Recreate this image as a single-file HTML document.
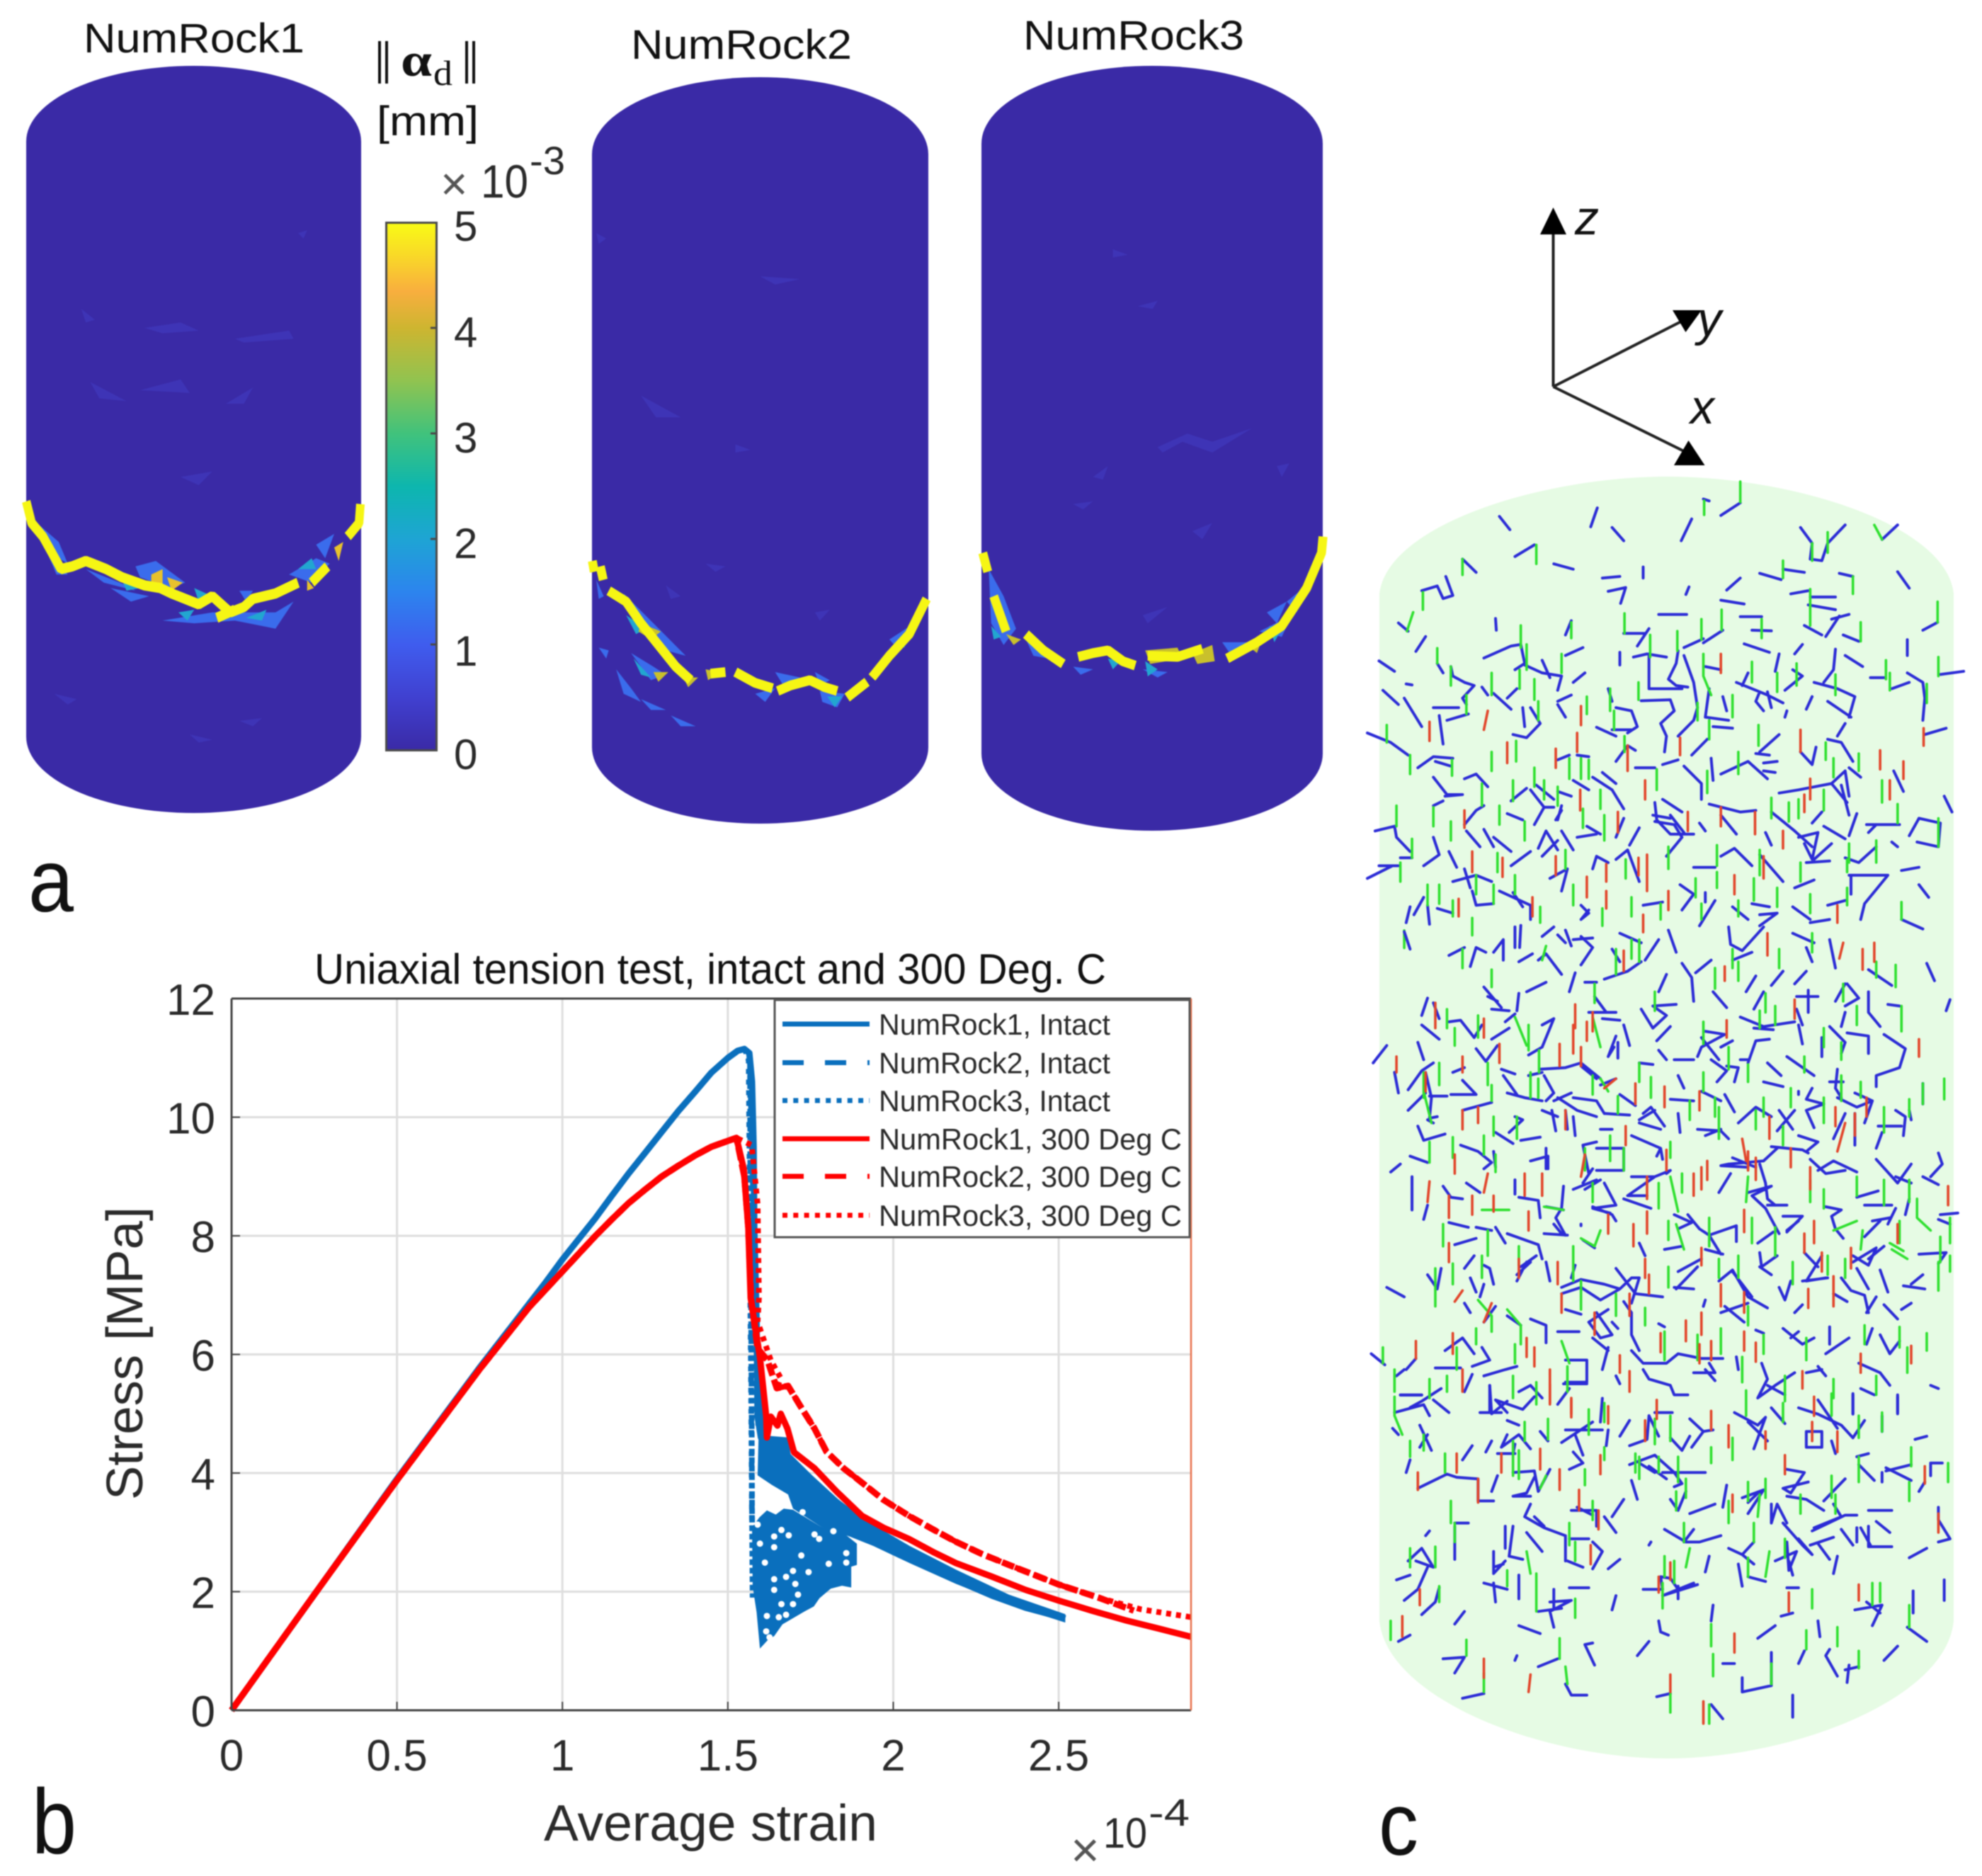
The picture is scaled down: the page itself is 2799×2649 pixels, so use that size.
<!DOCTYPE html>
<html lang="en">
<head>
<meta charset="utf-8">
<title>Numerical rock fracture figure</title>
<style>
html,body{margin:0;padding:0;background:#fff}
svg{display:block;filter:blur(0.9px)}
text{font-family:"Liberation Sans",sans-serif;fill:#111}
.tick{fill:#2a2a2a}
.fr path{fill:none;stroke-linecap:round;stroke-linejoin:round;vector-effect:non-scaling-stroke}
.cb{fill:none;stroke:#2b2bd6;stroke-width:4}
.cg{fill:none;stroke:#2fe02f;stroke-width:3.6}
.cr{fill:none;stroke:#e2452a;stroke-width:3.6}
.faint{fill:#3e34b6}
.yl{fill:none;stroke:#f6f614;stroke-linejoin:bevel}
</style>
</head>
<body>
<svg id="fig" xmlns="http://www.w3.org/2000/svg" width="2799" height="2649" viewBox="0 0 2799 2649">
<rect width="2799" height="2649" fill="#fff"/>

<!-- PANEL A -->
<g>
<text x="118" y="74" font-size="58" textLength="312" lengthAdjust="spacingAndGlyphs">NumRock1</text>
<text x="891" y="83" font-size="58" textLength="312" lengthAdjust="spacingAndGlyphs">NumRock2</text>
<text x="1445" y="70" font-size="58" textLength="312" lengthAdjust="spacingAndGlyphs">NumRock3</text>

<!-- Cylinder 1 -->
<g>
<path d="M37 200A236.500 107 0 0 1 510 200V1040A236.500 108 0 0 1 37 1040Z" fill="#3a2aa6"/>
<g transform="scale(.6378,.7653)">
<path class="faint" d="M320 605 400 595 440 610 360 615ZM520 625 640 610 650 625 540 632ZM500 745 560 715 540 745ZM180 570 210 590 190 595ZM200 705 280 740 220 735ZM310 720 400 700 420 725ZM660 430 680 425 672 440ZM120 1280 170 1290 150 1300ZM420 1355 470 1365 440 1370ZM530 1330 580 1325 560 1340ZM400 880 470 870 440 895Z"/>
<path d="M300 1045 345 1035 410 1075 375 1085 310 1065ZM360 1145 470 1130 610 1130 650 1110 610 1160 520 1145 430 1150ZM640 1060 700 1030 730 1040 690 1075ZM75 960 130 1000 150 1040 110 1020ZM190 1050 280 1080 300 1090 230 1075ZM530 1090 560 1090 545 1110ZM100 1010 150 1060 125 1060ZM245 1085 330 1100 290 1110ZM700 1005 740 985 720 1030Z" fill="#3a6cec"/>
<path d="M270 1070 310 1085 280 1090ZM545 1140 590 1125 580 1145ZM660 1050 690 1030 700 1050ZM430 1085 470 1100 440 1110ZM90 980 110 1000 100 1010ZM395 1130 430 1125 415 1145Z" fill="#22a6d0"/>
<path d="M335 1060 360 1050 360 1085 335 1080ZM370 1065 405 1075 380 1090ZM680 1070 695 1085 680 1090ZM740 1010 760 1000 750 1035Z" fill="#e8c22c"/>
<path class="yl" d="M58 925 70 965 95 990 135 1050 160 1045 190 1035 235 1050 270 1065 320 1080 355 1085 380 1095 410 1105 440 1115 470 1100 510 1130 540 1120 560 1105 610 1095 635 1085 660 1075M690 1075 725 1045M770 990 795 965 798 930" stroke-width="19"/>
<path class="yl" d="M480 1140 520 1125" stroke-width="19"/>
</g>
</g>

<!-- Cylinder 2 -->
<g>
<path d="M836 218A237.500 109 0 0 1 1311 218V1055A237.500 108 0 0 1 836 1055Z" fill="#3a2aa6"/>
<g transform="translate(800,0) scale(.7015,.7653)">
<path class="faint" d="M150 730 230 770 180 770ZM390 510 470 515 420 525ZM200 1080 230 1100 210 1105ZM500 1130 530 1125 510 1145ZM60 430 80 440 65 450ZM340 820 370 830 340 835ZM280 1040 320 1045 300 1055Z"/>
<path d="M115 1095 175 1150 240 1210 200 1200 140 1150ZM65 1195 85 1200 80 1215ZM130 1205 175 1230 200 1245 170 1255ZM100 1235 130 1270 150 1295 115 1280ZM150 1290 200 1310 170 1310ZM210 1320 260 1340 230 1340ZM60 1070 75 1100 65 1105ZM380 1280 420 1270 400 1295ZM510 1275 560 1280 545 1305 515 1295ZM650 1180 700 1150 670 1200ZM420 1240 470 1250 440 1270ZM500 1240 530 1255 510 1265Z" fill="#3a6cec"/>
<path d="M120 1135 160 1160 140 1170ZM525 1285 555 1285 540 1305ZM665 1185 690 1170 680 1195ZM135 1215 170 1250 150 1245Z" fill="#22a6d0"/>
<path d="M150 1150 190 1165 170 1180 145 1165ZM175 1240 205 1240 185 1258ZM235 1250 265 1250 245 1268ZM280 1235 310 1240 285 1255Z" fill="#c9c02c"/>
<path class="yl" d="M52 1035 56 1055M68 1045 74 1070M85 1090 120 1110 150 1150 185 1190 220 1230 250 1255M290 1243 320 1240M340 1240 380 1260 415 1270M425 1275 450 1265 490 1255 520 1268 545 1275M565 1287 605 1258M615 1250 650 1210 690 1170 725 1105" stroke-width="18"/>
</g>
</g>

<!-- Cylinder 3 -->
<g>
<path d="M1386 203A241 110 0 0 1 1868 203V1064A241 109 0 0 1 1386 1064Z" fill="#3a2aa6"/>
<g transform="translate(800,0) scale(.7015,.7653)">
<path class="faint" d="M1190 825 1250 800 1300 815 1380 790 1300 835 1240 815 1200 835ZM1150 565 1190 555 1180 570ZM1060 880 1090 860 1080 885ZM1430 860 1455 855 1440 880ZM1020 930 1060 925 1040 940ZM1260 980 1300 965 1280 995ZM1160 1135 1210 1120 1170 1150ZM1100 460 1130 470 1100 475Z"/>
<path d="M850 1050 880 1100 905 1160 880 1190 855 1150ZM1160 1235 1210 1240 1190 1250ZM1320 1185 1370 1185 1335 1205ZM1395 1165 1460 1135 1440 1175ZM1020 1230 1060 1235 1035 1245ZM1450 1110 1490 1080 1470 1130ZM925 1180 970 1215 940 1210ZM1410 1130 1450 1110 1430 1150Z" fill="#3a6cec"/>
<path d="M1090 1215 1115 1220 1100 1235ZM1165 1220 1190 1235 1170 1248ZM855 1155 875 1175 860 1180ZM1415 1155 1440 1160 1425 1185Z" fill="#22a6d0"/>
<path d="M1165 1200 1230 1195 1240 1215 1175 1225ZM1260 1205 1300 1190 1305 1220 1270 1225ZM1370 1190 1400 1180 1390 1205ZM885 1170 915 1180 900 1190Z" fill="#c9c02c"/>
<path class="yl" d="M838 1020 848 1055M860 1100 885 1165M925 1170 960 1200 1000 1225M1030 1212 1060 1205 1090 1200 1120 1220 1145 1228M1170 1210 1230 1212 1280 1197M1330 1215 1390 1185 1440 1155 1490 1085 1520 1020 1523 990" stroke-width="18"/>
</g>
</g>

<!-- Colorbar -->
<defs>
<linearGradient id="parula" x1="0" y1="1" x2="0" y2="0">
<stop offset="0" stop-color="#3a2aa6"/><stop offset=".1" stop-color="#4040d0"/><stop offset=".2" stop-color="#3f5cee"/><stop offset=".3" stop-color="#2c84ee"/><stop offset=".4" stop-color="#1ea4d4"/><stop offset=".5" stop-color="#0db6ae"/><stop offset=".6" stop-color="#40c27c"/><stop offset=".7" stop-color="#90c350"/><stop offset=".8" stop-color="#cdb530"/><stop offset=".87" stop-color="#f8ae3e"/><stop offset=".93" stop-color="#f9d42a"/><stop offset="1" stop-color="#f9fb15"/>
</linearGradient>
</defs>
<g>
<rect x="545.500" y="314.500" width="71" height="745" fill="url(#parula)" stroke="#4a4a4a" stroke-width="3"/>
<path d="M608 463H616M608 612H616M608 761H616M608 910H616" stroke="#4a4a4a" stroke-width="3"/>
<text class="tick" x="641" y="340" font-size="60">5</text>
<text class="tick" x="641" y="490" font-size="60">4</text>
<text class="tick" x="641" y="639" font-size="60">3</text>
<text class="tick" x="641" y="788" font-size="60">2</text>
<text class="tick" x="641" y="940" font-size="60">1</text>
<text class="tick" x="641" y="1086" font-size="60">0</text>
<g>
<text class="tick" x="622" y="282" font-size="66" style="fill:#555">×</text>
<text class="tick" x="679" y="279" font-size="66" textLength="67" lengthAdjust="spacingAndGlyphs">10</text>
<text class="tick" x="748" y="246" font-size="56" textLength="50" lengthAdjust="spacingAndGlyphs">-3</text>
</g>
</g>
<g>
<path d="M536 58V118M546 58V118M659 58V118M669 58V118" stroke="#111" stroke-width="4" fill="none"/>
<text x="566" y="107" font-size="66" font-weight="bold" style="font-family:'Liberation Serif',serif" textLength="44" lengthAdjust="spacingAndGlyphs">α</text>
<text x="612" y="120" font-size="50" style="font-family:'Liberation Serif',serif" textLength="27" lengthAdjust="spacingAndGlyphs">d</text>
<text x="532" y="191" font-size="58" textLength="144" lengthAdjust="spacingAndGlyphs">[mm]</text>
</g>
<text x="40" y="1287" font-size="125" textLength="64" lengthAdjust="spacingAndGlyphs">a</text>
</g>

<!-- PANEL B -->
<g id="chart"></g>
<text x="45" y="2617" font-size="130" textLength="63" lengthAdjust="spacingAndGlyphs">b</text>

<!-- PANEL C -->
<g>
<path d="M1948 838C1960 740 2180 673 2354 673C2530 673 2748 740 2759 838V2289C2748 2400 2530 2483 2354 2483C2180 2483 1960 2400 1948 2289Z" fill="#e6fbe4"/>

<g class="fr" transform="translate(1920,660) scale(.5486,.4464)">
<path class="cb" d="M360 155 387 197M612 128 595 188M650 190 680 232M855 163 828 232M885 100 900 106M930 152 980 112M1135 190 1165 240 1160 290 1190 295 1205 240 1250 182M1385 182 1345 228M400 282 450 245M500 305 550 322M625 350 670 345M730 315 730 350M1385 330 1415 382M640 392 685 380 672 430M848 378 840 402M980 350 945 388M1030 335 1085 355M1090 322 1145 332M1235 335 1270 345M300 332 265 290M160 390 200 375 215 415 240 405 222 345M1110 400 1155 390M1160 410 1225 410M930 420 990 432M1155 435 1225 450M1215 480 1260 465M770 465 842 465M980 472 1035 472M1010 515 1060 517M1145 500 1190 530M1200 535 1235 470M1245 530 1285 550M1450 515 1488 490M350 478 352 515M545 485 530 530M100 492 125 518M170 535 145 582M680 525 735 525M715 565 745 510M885 555 935 515M835 570 885 542M320 603 390 565 415 560 425 620 400 640M530 595 575 570M670 585 670 625M705 600 740 590 790 600M990 558 1055 585M1140 560 1120 590M1225 575 1220 640 1195 680M1250 595 1295 630M1410 545 1410 595M50 612 90 645M200 620 215 650M235 630 240 660 270 680 295 690 265 730 275 750M425 625 470 650 520 660 510 705M470 610 490 665M580 650 550 680M745 590 745 700M820 580 815 620 795 670 815 690 845 695M835 595 860 680 870 760 860 800M890 630 930 640M1080 590 1070 645M1115 640 1140 660 1095 705M1315 665 1350 665M1410 650 1450 680 1455 730 1450 800M1495 655 1555 645M1370 700 1415 680M120 685 135 688M60 705 100 750M115 730 160 820M315 695 330 720M345 715 390 765M405 700 380 730M745 700 830 700M725 738 800 735 810 770 775 810 790 850 785 900M970 680 1050 720 1090 745M1000 650 985 690M1030 710 1020 740 1040 770M1050 710 1060 760M1170 680 1230 700 1275 725 1260 790M1205 740 1265 790M1165 725 1150 765M510 740 545 720M510 750 530 790M640 700 650 740M660 760 700 770 715 820 690 840M610 822 660 850M650 830 700 830M900 700 890 790 950 800M910 820 960 825M935 725 945 770M190 760 255 760M225 800 280 780M205 785 215 875M420 760 425 820M440 760 465 810 430 855 395 845M1100 770 1095 790M1230 850 1250 810M1205 860 1240 870 1270 930M1455 845 1510 825M860 800 820 850M895 860 855 910M20 840 80 870 125 910M1030 900 1080 845M1020 905 1055 910M1135 900 1165 940 1175 885M150 950 190 915 240 920M195 930 235 945M190 980 225 1035 265 1035M270 985 300 970 330 1010M835 945 880 1000 880 1050M560 910 590 915M510 925 540 910M600 980 650 1020 680 1080M550 990 590 1020M625 965 660 1000M760 950 710 950M660 930 690 880 710 895M780 940 820 925M905 920 910 990M930 970 1000 930 1050 985M1040 935 1075 930M1040 960 1070 965M440 1020 475 1075 450 1130M390 1055 430 1015M455 1005 500 1050M510 1025 545 1040M475 1075 500 1075M520 1085 505 1115M1080 1030 1130 1020 1215 1000 1255 1060M1215 1000 1250 960 1260 1040M1240 1005 1260 1100M1290 980 1260 950M1400 1025 1375 960M1505 1040 1525 1090M40 1150 90 1135 95 1170 130 1215M190 1070 215 1055M220 1040 265 1035M780 1050 830 1090M800 1100 835 1155M755 1100 800 1110M760 1060 765 1115 800 1160 860 1160M900 1065 980 1090 1020 1085M930 1100 970 1160M1060 1090 1120 1150 1165 1200M1190 1090 1165 1125M1280 1095 1260 1165M1195 1135 1250 1175M1305 1130 1350 1130 1390 1130M1440 1110 1415 1165M1440 1110 1495 1125 1490 1200 1435 1185M1370 1185 1385 1200M270 1130 300 1085 320 1070M275 1150 310 1200M320 1145 345 1200M380 1095 420 1115M345 1170 390 1215M480 1150 460 1205 480 1150 510 1210M520 1150 550 1210M520 1070 510 1115M560 1170 610 1160M585 1135 620 1160M680 1110 660 1170M720 1140 695 1195M760 1120 810 1130 830 1170 790 1230M875 1125 890 1150M1045 1155 1060 1195M1130 1170 1180 1155 1165 1240 1145 1190M1215 1190 1170 1240M1250 1235 1285 1250 1330 1200M1310 1155 1330 1130M165 1260 205 1225 190 1170M230 1215 250 1265M390 1260 440 1215M470 1230 510 1180M600 1270 610 1230 640 1250M660 1240 690 1210 720 1310M860 1265 915 1265M930 1230 965 1205 1010 1260M1030 1225 1090 1310M1150 1250 1210 1245M1260 1290 1315 1290 1360 1290 1300 1380 1290 1430M1265 1290 1265 1350M1440 1320 1465 1360M1395 1275 1440 1265M20 1300 85 1260M50 1260 100 1260M105 1235 135 1235M490 1300 535 1270 520 1340M240 1310 300 1290 340 1310M270 1270 285 1330M290 1340 300 1385 345 1380M360 1340 440 1385 440 1430M395 1345 420 1390M130 1390 120 1440M175 1385 180 1445M165 1360 140 1415M200 1395 240 1410M570 1385 590 1410 570 1430 590 1400M730 1385 780 1375M825 1320 860 1350 830 1400M890 1345 890 1375M915 1370 875 1450M960 1390 1000 1430M1010 1380 1055 1390M1030 1415 1075 1410 1030 1450M1120 1330 1170 1305M1115 1390 1160 1430M1205 1385 1250 1370M1160 1440 1210 1430M1395 1430 1450 1460"/>
<path class="cg" d="M980 45V110M887 105V150M138 458 122 518M163 395V450M265 290V340M455 245V305M1165 240V295M1205 205V270M1325 182 1345 228M1090 295V350M1160 385V500M1270 345V400M1290 490V550M1488 425V490M682 462V525M880 480V545M932 450V515M818 518V580M1035 480V540M415 500V570M545 490V540M748 530V600M520 590V650M430 560V640M200 572V620M235 630V690M340 650V720M412 640V700M450 670V735M885 590V660M1010 615V680M1075 650V710M1125 620V690M885 660 905 720M718 680V735M275 720V780M460 740V800M585 725V780M645 700V770M655 770V830M960 720V790M1225 655V720M1355 610V670M1365 650V705M1490 600V660M1460 685V745M70 815V870M130 910V970M340 900V960M403 865V930M682 850V900M1027 815V880M1200 870V925M1285 905V960M870 745V800M900 800V860M975 900V970M238 925V975M450 950V1010M540 920V985M570 920V985M590 925V985M765 955V1020M1220 920V980M395 990V1055M475 990V1050M510 1010V1070M315 1000V1070M620 1020V1080M895 960V1030M1060 1045V1110M1105 1060V1120M1130 1050V1110M1195 1020V1085M1345 990V1060M1385 1065V1125M95 1070V1135M190 1075V1135M360 1070V1130M425 1120V1180M235 1120V1180M575 1080V1140M630 1100V1180M135 1175V1235M795 1200V1270M920 1195V1260M1030 1210V1290M1135 1250V1310M1260 1190V1250M1330 1180V1250M1255 1240V1280M1490 1110V1200M105 1250V1310M300 1290V1350M355 1220V1280M400 1290V1350M530 1210V1270M685 1240V1300M175 1320V1385M205 1320V1380M240 1370V1420M345 1320V1380M465 1390V1440M550 1320V1385M700 1360V1420M775 1380V1430M865 1300V1360M920 1280V1330M1015 1300V1370M1075 1330V1390M1160 1350V1410M1255 1330V1385M880 1380V1430M975 1370V1420M1395 1375V1430M625 1395V1450M290 1425V1480M115 1465V1520"/>
<path class="cr" d="M180 805V865M330 770 320 830M380 870V935M570 755V815M560 840V900M505 890V950M690 880V960M825 855V910M1135 830V900M1340 895V955M1400 930V985M1452 825V880M735 990V1050M568 1020V1085M930 1075V1135M1018 1090V1160M1160 985V1050M1145 1035V1090M1365 990V1050M270 1085V1140M665 1090V1155M845 1090V1150M930 590V650M1090 1150V1205M1040 1230V1300M505 1230V1290M290 1215V1280M368 1235V1295M740 1225V1340M718 1235V1290M635 1255V1310M635 1340V1395M585 1295V1360M795 1340V1400M965 1290V1350M445 1360V1420M255 1365V1420M1230 1385V1440M730 1415V1470"/>
</g>

<g class="fr" transform="translate(1920,1300) scale(.5486,.4464)">
<path class="cb" d="M115 35 130 90M230 110 270 85M285 145 300 85 325 100M345 100 370 60V125M410 130 445 105M460 125 480 105 520 170M400 20V85M415 15 412 85M470 50 500 20M510 45 530 70M530 30 545 80M550 60 600 55M570 50 600 85 570 140M670 40 725 70M650 90 670 130M630 185 690 160 725 130M580 195 610 195M555 165 540 225M430 225 480 195M410 230 405 285M320 210 365 275M330 240 355 255M340 280 385 285M175 245 160 300M190 260 205 310M735 125 770 60M795 30 815 100M790 170 770 225M830 135 855 180 860 255M865 165 905 125M950 20 955 75 985 95 1040 20M960 125 1010 100M910 225 945 275M1020 175 995 225M1090 160 1060 205M1150 160 1120 200M1040 225 1015 280M1115 40 1170 70M1150 85 1165 130M1210 60 1225 150M1125 240 1180 240M1155 220V290M1250 200 1225 255M1255 200 1285 245 1250 270M1310 225 1310 290 1340 335M1360 265 1390 270M1250 290 1240 335M1310 155 1370 205M1460 135 1480 190M1520 250 1510 285M605 240 635 290 590 290M620 290 660 290M625 310 670 315M725 280 755 340 790 300 755 270 815 265M765 380 800 335M680 330 695 395M660 365 640 430M665 385 665 435M400 295 375 320M160 330 205 375M230 320 260 315 295 370 315 330M340 375 385 340M470 330 500 310 470 400 435 425M1140 330 1125 280M980 305 1040 335 1120 320M1015 340 1065 345M1055 375 1020 380 1000 450M1130 330 1140 390M1210 335 1250 385 1240 420M1255 355 1310 365 1310 420M1350 360 1405 405 1390 465 1330 490 1330 525M1190 370 1190 430M980 440 1000 440M150 385 165 440M70 395 35 450M300 405 325 445 355 395M890 350 940 360 880 400 870 430M880 370 925 440M905 440 945 475 920 510M945 460 975 465 965 510M960 380 930 400M770 410 790 440M810 440 860 440M720 450 755 455M655 400 640 430M365 470 400 485M370 490 405 550M435 490 470 480M465 470 530 465 570 450 620 500M475 490 500 545 480 570M570 460 610 500M90 480 100 545M190 450 160 475 125 535M170 480 185 560 180 625 200 620M240 480 270 465M265 505 300 550 235 550M180 555 225 555M125 600 170 545M380 545 425 560 470 570M500 570 545 545M510 560 560 600 610 620M550 560 610 570 630 610M620 520 660 500M670 550 710 585M730 610 750 590 785 650M820 490 835 530M800 565 860 570M880 540 930 570M940 550 965 605M975 640 1020 590 1060 620M1080 600 1115 660M1120 600 1075 665M1040 510 1090 525M1050 450 1085 490M1100 430 1170 490M1210 510 1245 510M1230 470 1225 530 1240 560M1130 540V550M1165 530 1150 565 1195 580 1150 600 1170 655M1230 560 1280 590 1320 570M1275 545 1320 570 1300 640M1380 600 1405 620 1400 680M1335 650 1395 650M1345 670 1330 720M1450 515V580M150 650 165 695 220 675M175 630 190 640M265 600 340 575M470 600 510 620M495 600 505 665M400 620 420 630 385 670M350 670 395 705M415 695 465 685M530 600 535 660M550 620 555 680M630 610 695 615M620 660 650 660M720 630 760 600M720 640 775 660M820 610 825 670M870 660 930 665 950 690M890 680 930 660M1130 680 1180 700 1150 730M1060 715 1140 725 1155 735M1250 610 1220 690M1275 610 1275 710M1415 600 1420 630M130 745 175 765M80 795 105 770M260 710 305 730 340 765 320 785M345 730 350 780M610 700 575 710 590 800 600 785 575 830M610 720 680 720 680 790 610 790M700 680 775 720 780 755M775 720 765 745M1000 780 930 775 950 770 1040 760M960 750 1020 780M1040 760 1075 720M1030 770 1045 830 1050 880 1070 900M1050 900 1100 900M1160 755 1200 800 1250 790M1180 790 1220 760 1280 795M1330 755 1385 830 1420 770M1380 810 1420 830M1470 810 1500 770 1490 735M1450 810 1490 835M440 760 485 745V785M480 720V785M135 810V915M215 840 235 875 265 880M175 900 165 945M275 830 310 860M400 820V865M410 875 460 885 465 940M525 840 520 910 505 940 530 995M550 850 610 820M580 850 620 820M630 830 660 900 600 910 645 925M700 810 760 810 690 870 740 870M680 880 750 910M790 800 800 790 760 810M955 800 925 860M1000 860 1060 840 1010 870 1045 910 1080 990M1090 935 1140 935 1100 985M1280 875 1335 855M1300 900 1370 900M1415 880 1405 930M1495 930 1540 925M1490 945 1520 960M1200 905 1240 915 1215 935 1225 975 1245 1005M1320 950 1365 940M1300 1000 1340 950M1380 910 1360 960M480 905 525 915M845 930 875 975 900 995 970 965 970 1015M900 995 930 1055M810 930 855 955 820 975M600 905 650 930 660 950M570 960V965M475 990 535 995M500 960 520 990M230 955 280 970M350 970 375 1020M300 970 340 980M245 1025 300 1005M380 990 460 1025 470 1070M415 1095 455 1060M405 1140 430 1080M575 1010 605 1035M720 1020 735 1060M785 1040 830 1030M890 1040 935 1055M1025 1020 1065 985M1130 950 1100 980M1145 1050 1180 1095M1030 1050 1035 1095 1075 1060M1190 1060 1150 1140 1200 1130M1270 1080 1330 1035 1310 1090 1270 1060M1310 1070 1350 1030M1440 1055 1510 1050 1490 1085M1280 1100 1310 1165M1340 1105 1360 1175M1420 1150 1450 1120M1400 1155 1455 1165M270 1100 295 1060M285 1130 300 1175M320 1090 335 1100 345 1150M320 1150 310 1190M175 1120 200 1165 210 1100M70 1160 115 1190M270 1210 285 1240M405 1120 440 1080M480 1080 490 1140M520 1160 570 1135 630 1150 670 1165M555 1090 545 1130M520 1180 570 1160 620 1200 670 1165 700 1130 720 1130 700 1210M530 1230 570 1245M610 1240 650 1310 620 1320 590 1270 640 1230M660 1100 710 1180 780 1190M700 1240 680 1205M810 1160 860 1165M815 1165 870 1095M820 1110 880 1070M925 1140 960 1105 1000 1190 1050 1225M960 1110 1010 1190M890 1200 885 1220M930 1240 1000 1210M940 1220 990 1270M1030 1095 1060 1120M1080 1160 1095 1200 1110 1140M1120 1240 1140 1215M1140 1140 1205 1130M1220 1180 1255 1205M1240 1130 1265 1170 1300 1185 1310 1240M1350 1215 1385 1260M1330 1190 1305 1240M1395 1230 1420 1210M320 1270 350 1220M380 1250 415 1280M440 1260 480 1280 480 1335M510 1300H565M600 1320 640 1360M650 1270 665 1290M700 1240 700 1310 720 1360M770 1275 785 1285M1020 1295 1040 1305M1090 1290 1140 1340 1170 1320M1130 1300 1110 1320M1200 1370 1260 1320M1210 1285V1340M1320 1290 1305 1340M1340 1310 1365 1370 1390 1330M30 1370 65 1405M120 1420 145 1385M220 1360 265 1320 295 1370M195 1415H260M290 1410 335 1390 315 1350M320 1440 375 1420 405 1410M640 1350 625 1420M700 1360 730 1400 790 1400 820 1370 880 1385 935 1385M730 1420 745 1450 800 1470 810 1500 845 1500M860 1430H915L900 1400M890 1420 915 1455M970 1380 975 1420M1035 1400 1050 1450 1025 1510 1070 1470 1120 1430M1050 1470 1095 1500M1180 1410 1200 1440M1150 1430 1190 1420M530 1390H585V1460H530M525 1465H585M540 1480 510 1530M660 1440 670 1465M1285 1400 1340 1430 1365 1470M1290 1480 1325 1500M1470 1470 1490 1480M105 1500H160M95 1440 115 1420M335 1470 340 1560 380 1520M410 1490 440 1470 470 1510M290 1435 270 1490M210 1480 160 1520 130 1540M1270 1500V1560M1385 1500V1560"/>
<path class="cg" d="M265 90V150M480 80 470 125M340 155V210M605 200V260M660 90V170M700 60V120M720 60V130M960 90V150M915 150V215M975 130V190M1080 90V150M1165 40V100M1380 140V210M1330 130V180M1395 270V350M1280 270V330M1245 200V255M1030 285V340M1070 270V330M1045 230V290M760 225V285M225 280V340M305 300V370M245 340V395M400 305 430 395M435 330V410M462 410V480M600 305 620 400M885 320V390M950 400V470M1195 340V400M1240 385V440M1145 430V480M1000 455V510M205 450V520M330 450V520M165 480V560M440 480V560M460 500V560M600 490V550M620 500 640 540M665 555V610M750 495V560M885 480V540M720 450V510M165 540 185 640M340 520V570M1450 515V580M1505 500V565M1290 510V560M1240 490V570M1110 530V590M915 560V620M850 570V630M925 590V690M1040 560V620M1020 600V660M1090 650V710M1195 560V640M1350 590V670M1415 565V620M240 685V750M320 680V740M350 740V795M180 700V765M345 620V680M405 620V690M645 680V760M680 720V790M580 720V790M800 700V750M1000 810 995 890M1160 820V890M1195 850V910M1350 820V900M1415 820V890M1280 810V870M1435 880V940L1470 980M600 830V890M770 830V910M800 810 820 920M830 800V860M1520 940V1020M1390 950V1020M1495 1000V1080M1295 980 1290 1040M1220 980 1280 950M315 915H385M475 905 525 915M215 960V1030M330 980V1060M620 980 605 1030 570 1005M795 950V1010M815 960 835 1040M900 940V1030M1010 940V1020M1070 970V1060M1250 1070V1130M240 1085V1150M410 1030V1090M315 1060V1130M550 1030V1140M795 1095V1160M925 1070V1130M975 1060V1130M1115 1080V1150M1205 1060V1120M1400 1045 1365 1020M1370 1040 1410 1070M1490 1080V1170M1520 1060V1110M195 1100V1220M305 1200 340 1250V1300M380 1230 415 1280V1340M570 1140V1230M660 1180V1250M735 1225V1280M785 1300V1390M870 1310V1390M930 1290V1370M1000 1220V1280M1040 1310V1370M1150 1320V1390M1300 1280V1340M1390 1285V1350M1460 1305V1360M300 1290V1340M60 1350V1400M400 1340V1400M250 1350V1420M520 1330 540 1400M90 1420V1490M180 1450V1510M225 1440V1490M395 1440V1510M455 1460V1530M535 1410V1490M985 1380V1460M1095 1440V1520M1220 1450V1510M1330 1440V1500M1410 1350V1430"/>
<path class="cr" d="M1050 40V110M1245 70 1235 120M1325 70V130M1295 90V155M940 145V190M680 95V160M555 265V340M320 310V370M585 320V380M600 290V350M550 330V420M195 260V340M1120 250V310M945 315V370M1440 375V430M515 390V460M570 400V460M360 390V450M95 430V480M265 430V480M170 480V540M660 500 630 530M710 515V580M785 525V590M875 540V600M1305 560V620M265 600V660M305 590V640M530 600V660M685 650V710M1055 620V690M1225 590V650M1250 640 1230 730M1275 610V680M245 740V800M330 800 320 860M580 740 570 810M790 725V790M985 690 995 760M1000 730V790M1020 750V820M1110 720V780M1160 780V850M180 825 175 890M425 800V870M470 800V870M895 760V820M880 780V850M860 800V870M740 810V880M1515 840V900M230 870V940M290 870V930M345 870V920M435 920V980M640 930V990M740 920V990M1170 950V1020M990 915V985M1385 960V1020M705 960V1030M1145 990V1050M230 1020V1080M1265 1035V1100M410 1070V1130M510 1080V1150M735 1070V1130M880 1035V1090M1190 1050V1110M1220 1125V1220M745 1120V1180M695 1180V1250M520 1180V1240M930 1150V1220M880 1240V1310M990 1175V1240M1155 1165V1225M265 1170 245 1205M340 1210 320 1270M605 1240V1310M775 1305V1365M840 1265V1330M990 1300V1360M1020 1335V1395M240 1305V1370M145 1330V1385M430 1320V1380M450 1350V1410M875 1340V1400M905 1330V1390M1290 1370V1430M1420 1345V1400M265 1420V1490M490 1420V1530M695 1425V1490M670 1375V1430M1140 1425V1480M545 1510V1560"/>
</g>

<g class="fr" transform="translate(1920,1950) scale(.5486,.4458)">
<path class="cb" d="M105 45H160M90 100 165 75 180 110M230 100 190 60M310 100H365M335 15V100M380 100 350 60 420 90 450 50M625 55 620 130M530 155H625M600 130 520 195M555 170 575 235M640 155 635 205M695 125 670 175M695 205 740 185 745 110M745 110 770 175M760 100H805M850 120 885 160 855 210M885 160 910 155M800 180 830 220 850 175M965 100 1025 140 1045 115 1015 215M1000 130 1050 190M1060 85 1095 135M1130 85 1180 105 1240 140 1270 180 1300 125M1180 60 1230 150M1150 210 1190 210 1190 160 1150 160V210M1270 40V105M1385 50V100M1430 185 1460 175M1345 110V160M100 170 85 150M155 140 185 220M175 170 155 210M290 205 265 250M340 190 325 225M380 170 365 210 410 170 440 215M410 140 380 125M465 160 485 190M400 200 395 230M1500 260H1470V300M1285 265 1325 315M1355 275 1420 315M1420 265 1355 285M1455 320 1440 350M1345 290V320M1280 240 1310 230M1225 230 1215 190M130 250 120 290M150 340 225 295 250 305 305 310V380H345M355 230H400M355 300 340 350M450 305 430 355 395 365H440M395 290 450 285 460 350 490 280M540 280 575 260 550 225M695 265 760 235 810 290 830 325 810 335M720 260 760 290M780 290H890M745 270 790 310M700 315 715 375M680 375 650 430M840 350 820 410 800 375M850 420 915 390M1100 280 1145 290 1110 355 1090 340 1155 320M1100 365 1150 375 1195 410M1250 310 1195 380M985 370 1040 345 1000 420M945 330 935 400M1030 350 1000 385M440 390 425 430 475 465 530 490M450 430 475 460M545 410H610V460M560 400 600 425M630 430 660 480M245 450H280M245 460 245 565M170 490 180 475M375 460V530M395 460 385 555M430 480 470 540M540 500H590M535 570 575 590M600 510 625 540 600 595M640 595 670 565M530 490V570M1060 390V450L1075 390 1100 450M1090 450 1140 520 1165 550 1130 500M1165 475 1250 425 1280 425M1220 390 1240 430 1170 465M1310 410H1370M1240 470 1270 520M1330 445 1365 480M1310 460V525H1370M1290 465 1315 520M1160 520 1220 495M1180 515 1210 565M1280 465V510M1490 400V440L1520 500M1490 510 1520 500M1415 560 1460 530M1230 555 1220 610M1100 510 1105 600 1125 540 1070 570M1105 570 1115 615M785 470 840 510 875 510 930 490M860 470 835 510M750 510 745 520M950 530 985 550 1015 580M1015 510 985 550M900 555 890 605M975 580 985 650M1000 620 1045 635M345 540 345 610 375 570M345 590 370 580M385 555 420 565M320 640 380 660M345 640 350 700M410 615V690M490 700 545 695 490 730 500 780M460 730 520 720M500 660V720M540 655H590M125 570 160 530 190 590 145 570M95 630 130 615M175 590 150 660 115 695M205 655 195 700 160 740M660 680 650 725M730 660H780L775 620 800 625 820 660 870 645 780 680M780 680 860 640M820 650 820 690M910 710 905 760M770 760 775 795 795 805M745 825 715 870M1120 655 1100 655H1130M1085 745 1115 735M1275 725 1345 710 1320 775M1180 760 1185 810M1305 700 1340 735M1425 665V735M1505 630V695M1410 780 1460 825M1210 850 1200 870 1230 935M1250 915 1285 905M1260 900 1255 955M1385 840 1350 885M1145 855 1130 895M1025 815 1070 775M985 940V985L1060 965 1060 860M935 895H965M765 1000 800 990M905 1025 935 1070M1115 995V1065M265 1005 320 990M530 960 545 995H585M460 905 510 880M600 830 580 835 605 900M405 870 400 885M410 775 465 800M245 770 270 730M215 880 270 875 245 925M100 825 130 805"/>
<path class="cg" d="M90 50V110L110 170M130 190V240M165 170V220M425 130V190M485 120V185M590 90V170M630 70V130M760 120V200M800 110V190M905 210V260M995 30V110M1090 70V130M1215 40V110M1285 110V180M1345 100V160M1285 240V320M1420 210V270M1415 320V380M1515 260V320M395 190V300M410 220V310M580 280V330M630 210V250M720 240V310M770 240V290M820 240V320M840 310V370M960 180V250M220 230V290M480 300 465 340M710 230V290M235 380V450M245 450V510M835 450V510M850 530 840 590M815 350V410M1000 320V380M1030 360 1025 430M1045 310V370M950 380V450M1095 500V560M1135 360V420M1225 360V420M1215 300V370M1015 450V510M540 450V520M555 510V570M600 380V440M130 530V590M195 525V590M380 600V650M430 540 440 610M455 610V730M555 690V750M785 555V620M810 570V640M1000 560V620M1055 540 1045 620M205 650V700M1165 660V720M1320 640V710M1340 640V700M1415 710V780M910 865V935M905 770V840M1150 790V850M1230 780V840M275 820V870M515 815V880M320 925V985M530 905 535 960M800 990V1050M900 1025V1085M1060 895V960M1285 855V910M780 640V720M80 760V820"/>
<path class="cr" d="M490 10V70M545 60V115M640 80V135M765 60V120M905 95V155M735 125V190M1170 50V110M1165 130V190M950 140V210M1045 160V215M1230 160V225M365 230V290M465 215V280M620 235V295M250 230V290M150 290V345M305 310V385M515 280V345M1095 235V295M1455 270V325M565 345V410M615 410V470M960 360V415M595 520V580M800 575V630M1490 420V480M770 620V670M1285 645V695M1105 670V730M155 660V710M110 745V810M965 800V860M320 880V940M440 930 435 985M800 930V985M885 1015V1085"/>
</g>

<g>
<path d="M2193.500 546V328M2193.500 546 2380 451M2193.500 546 2384 640" stroke="#222" stroke-width="4" fill="none"/>
<path d="M2193.500 293 2175 331H2212Z" fill="#000"/>
<path d="M2362 438H2403L2380.500 469Z" fill="#000"/>
<path d="M2384.500 622 2364 657H2407.500Z" fill="#000"/>
<text x="2224" y="331" font-size="68" font-style="italic">z</text>
<text x="2397" y="474" font-size="68" font-style="italic">y</text>
<text x="2387" y="598" font-size="68" font-style="italic">x</text>
</g>
<text x="1947" y="2619" font-size="125" textLength="56" lengthAdjust="spacingAndGlyphs">c</text>
</g>
</svg>

<script>
// ---- Panel b data (strain in 1e-4, stress in MPa) ----
const xTicks = [0, 0.5, 1, 1.5, 2, 2.5];
const xTickLabels = ['0', '0.5', '1', '1.5', '2', '2.5'];
const yTicks = [0, 2, 4, 6, 8, 10, 12];
const yTickLabels = ['0', '2', '4', '6', '8', '10', '12'];
const legendLabels = ['NumRock1, Intact', 'NumRock2, Intact', 'NumRock3, Intact', 'NumRock1, 300 Deg C', 'NumRock2, 300 Deg C', 'NumRock3, 300 Deg C'];

const intactRiseX = [0, 0.25, 0.5, 0.75, 0.85, 0.95, 1, 1.05, 1.1, 1.15, 1.2, 1.25, 1.3, 1.35, 1.4, 1.45, 1.5, 1.53, 1.55];
const intactRiseY = [0, 1.95, 3.9, 5.78, 6.5, 7.22, 7.6, 7.95, 8.3, 8.68, 9.05, 9.4, 9.75, 10.1, 10.42, 10.75, 11, 11.12, 11.15];
const intact1TailX = [1.565, 1.573, 1.578, 1.58, 1.587, 1.59, 1.6, 1.68, 1.8, 1.9, 2, 2.1, 2.2, 2.3, 2.4, 2.52];
const intact1TailY = [11.08, 10.6, 9.5, 8.14, 6.55, 4.95, 4.6, 4.3, 3.45, 3.05, 2.7, 2.42, 2.17, 1.93, 1.73, 1.55];
const intact2TailX = [1.567, 1.575, 1.585, 1.592];
const intact2TailY = [10.9, 9, 6.8, 4.8];
const intact3TailX = [1.563, 1.566, 1.568, 1.571, 1.573];
const intact3TailY = [11, 9, 7, 5, 3.1];

const intactBandTopX = [1.597, 1.618, 1.682, 1.69, 1.755, 1.833, 1.918, 2.05, 2.19, 2.35, 2.52];
const intactBandTopY = [5.55, 4.63, 4.6, 4.32, 3.96, 3.56, 3.2, 2.77, 2.37, 1.95, 1.62];
const intactBandLowX = [2.52, 2.35, 2.19, 2.05, 1.94, 1.868, 1.78, 1.697, 1.682, 1.633, 1.59];
const intactBandLowY = [1.48, 1.78, 2.13, 2.48, 2.77, 2.93, 3.1, 3.4, 3.64, 3.8, 3.96];
const intactNoiseX = [1.573, 1.595, 1.618, 1.645, 1.669, 1.697, 1.78, 1.847, 1.89, 1.89, 1.873, 1.873, 1.845, 1.811, 1.777, 1.76, 1.733, 1.69, 1.665, 1.64, 1.62, 1.597, 1.587, 1.575];
const intactNoiseY = [3.08, 3.25, 3.37, 3.3, 3.4, 3.38, 3.1, 3, 2.81, 2.45, 2.42, 2.07, 2.1, 2.05, 1.89, 1.75, 1.67, 1.53, 1.45, 1.25, 1.18, 1.04, 1.65, 2.09];
const intactGapX = [1.726, 1.762, 1.776, 1.819, 1.64, 1.684, 1.662, 1.64, 1.722, 1.805, 1.858, 1.858, 1.64, 1.676, 1.697, 1.744, 1.612, 1.597, 1.64, 1.704, 1.712, 1.662, 1.697, 1.618, 1.654, 1.616, 1.626, 1.676, 1.59];
const intactGapY = [3.34, 2.965, 2.89, 3.02, 2.93, 2.95, 3.04, 2.75, 2.61, 2.47, 2.65, 2.49, 2.21, 2.25, 2.35, 2.33, 2.49, 2.81, 2.03, 2.13, 1.95, 1.79, 1.79, 1.59, 1.57, 1.33, 1.23, 1.61, 3.13];
const intactDotDropX = [1.567, 1.568, 1.57, 1.572, 1.573, 1.575];
const intactDotDropY = [11, 9, 7, 5, 3.4, 1.9];

const heatRiseX = [0, 0.25, 0.5, 0.75, 0.8, 0.85, 0.9, 0.95, 1, 1.05, 1.1, 1.15, 1.2, 1.25, 1.3, 1.35, 1.4, 1.45, 1.5, 1.526];
const heatRiseY = [0, 1.95, 3.88, 5.75, 6.1, 6.45, 6.8, 7.1, 7.4, 7.7, 8, 8.28, 8.55, 8.78, 9, 9.18, 9.35, 9.5, 9.6, 9.65];
const heat1TailX = [1.548, 1.562, 1.569, 1.597, 1.616, 1.618, 1.63, 1.65, 1.66, 1.68, 1.7, 1.762, 1.83, 1.905, 1.97, 2.047, 2.12, 2.19, 2.3, 2.4, 2.5, 2.6, 2.7, 2.8, 2.9];
const heat1TailY = [9.13, 8.14, 6.95, 5.95, 4.95, 4.6, 4.95, 4.8, 5, 4.75, 4.35, 4.08, 3.68, 3.28, 3.08, 2.89, 2.67, 2.48, 2.25, 2.03, 1.85, 1.68, 1.52, 1.38, 1.24];
const heat2TailX = [1.55, 1.562, 1.57, 1.59, 1.62, 1.648, 1.682, 1.72, 1.762, 1.798, 1.85, 1.905, 1.97, 2.047, 2.12, 2.19, 2.27, 2.35, 2.5, 2.62, 2.727];
const heat2TailY = [9, 8.14, 6.95, 6.1, 5.9, 5.43, 5.47, 5.12, 4.75, 4.36, 4.08, 3.84, 3.55, 3.28, 3.05, 2.84, 2.63, 2.45, 2.12, 1.9, 1.68];
const heat3TailX = [1.572, 1.59, 1.594, 1.59, 1.63, 1.66, 1.648, 1.682, 1.72, 1.762, 1.798, 1.85, 1.905, 1.97, 2.047, 2.12, 2.19, 2.27, 2.35, 2.5, 2.62, 2.75, 2.9];
const heat3TailY = [9.53, 8.54, 6.95, 6.55, 5.9, 5.6, 5.43, 5.47, 5.12, 4.75, 4.36, 4.08, 3.84, 3.55, 3.28, 3.05, 2.84, 2.63, 2.45, 2.12, 1.9, 1.7, 1.57];

const xDomain = [0, 2.9];
const yDomain = [0, 12];

const SVGNS = 'http://www.w3.org/2000/svg';
const chart = document.getElementById('chart');
const plotLeft = 327, plotRight = 1682, plotTop = 1410, plotBottom = 2415;
function sx(v) { return plotLeft + (v - xDomain[0]) / (xDomain[1] - xDomain[0]) * (plotRight - plotLeft); }
function sy(v) { return plotBottom - (v - yDomain[0]) / (yDomain[1] - yDomain[0]) * (plotBottom - plotTop); }
function make(tag, attrs, parent) {
  const el = document.createElementNS(SVGNS, tag);
  for (const k in attrs) el.setAttribute(k, attrs[k]);
  (parent || chart).appendChild(el);
  return el;
}
function linePath(xs, ys) {
  return xs.map((v, i) => (i ? 'L' : 'M') + sx(v).toFixed(1) + ' ' + sy(ys[i]).toFixed(1)).join('');
}

// grid
xTicks.forEach((t) => {
  if (t === 0) return;
  const l = make('line', { x1: sx(t), x2: sx(t), y1: plotTop, y2: plotBottom, stroke: '#dedede', 'stroke-width': 3 });
  
  
});
yTicks.forEach((t) => {
  if (t === 0 || t === 12) return;
  const l = make('line', { x1: plotLeft, x2: plotRight, y1: sy(t), y2: sy(t), stroke: '#dedede', 'stroke-width': 3 });
  
  
});

// intact series
const BLUE = '#0a6fbd', RED = '#ff0000';
const band = make('path', { d: linePath(intactBandTopX.concat(intactBandLowX), intactBandTopY.concat(intactBandLowY)) + 'Z', fill: BLUE });


const noise = make('path', { d: linePath(intactNoiseX, intactNoiseY) + 'Z', fill: BLUE });


intactGapX.forEach((v, i) => {
  const g = make('circle', { cx: sx(v), cy: sy(intactGapY[i]), r: 4.5, fill: '#fff' });
  
  
});
const dotDrop = make('path', { d: linePath(intactDotDropX, intactDotDropY), fill: 'none', stroke: BLUE, 'stroke-width': 8, 'stroke-dasharray': '8 4' });



function addSeries(xs, ys, color, width, dash, name) {
  const attrs = { d: linePath(xs, ys), fill: 'none', stroke: color, 'stroke-width': width, 'stroke-linejoin': 'round' };
  if (dash) attrs['stroke-dasharray'] = dash;
  const p = make('path', attrs);
  
  
}
addSeries(intactRiseX.concat(intact2TailX), intactRiseY.concat(intact2TailY), BLUE, 8, '30 20', 'series-numrock2-intact');
addSeries(intactRiseX.concat(intact3TailX), intactRiseY.concat(intact3TailY), BLUE, 8, '7 8', 'series-numrock3-intact');
addSeries(intactRiseX.concat(intact1TailX), intactRiseY.concat(intact1TailY), BLUE, 9, '', 'series-numrock1-intact');
addSeries(heatRiseX.concat(heat2TailX), heatRiseY.concat(heat2TailY), RED, 9, '18 6', 'series-numrock2-300c');
addSeries(heatRiseX.concat(heat3TailX), heatRiseY.concat(heat3TailY), RED, 8, '7 7', 'series-numrock3-300c');
addSeries(heatRiseX.concat(heat1TailX), heatRiseY.concat(heat1TailY), RED, 9, '', 'series-numrock1-300c');

// axes frame
const leftAxis = make('line', { x1: plotLeft, x2: plotLeft, y1: plotTop, y2: plotBottom, stroke: '#444', 'stroke-width': 3 });


const bottomAxis = make('line', { x1: plotLeft, x2: plotRight, y1: plotBottom, y2: plotBottom, stroke: '#444', 'stroke-width': 3 });


const topAxis = make('line', { x1: plotLeft, x2: plotRight, y1: plotTop, y2: plotTop, stroke: '#444', 'stroke-width': 3 });


const rightAxis = make('line', { x1: plotRight, x2: plotRight, y1: plotTop, y2: plotBottom, stroke: '#e8704a', 'stroke-width': 2.5 });



// tick labels
xTicks.forEach((t, i) => {
  const lb = make('text', { x: sx(t), y: 2500, 'font-size': 62, 'text-anchor': 'middle', class: 'tick' });
  lb.textContent = xTickLabels[i];
  
  
  const tk = make('line', { x1: sx(t), x2: sx(t), y1: plotBottom, y2: plotBottom - 12, stroke: '#444', 'stroke-width': 2 });
  
  
});
yTicks.forEach((t, i) => {
  const lb = make('text', { x: 304, y: sy(t) + 23, 'font-size': 62, 'text-anchor': 'end', class: 'tick' });
  lb.textContent = yTickLabels[i];
  
  
  const tk = make('line', { x1: plotLeft, x2: plotLeft + 12, y1: sy(t), y2: sy(t), stroke: '#444', 'stroke-width': 2 });
  
  
});

// titles
const title = make('text', { x: 444, y: 1389, 'font-size': 60, textLength: 1118, lengthAdjust: 'spacingAndGlyphs' });
title.textContent = 'Uniaxial tension test, intact and 300 Deg. C';


const xTitle = make('text', { x: 768, y: 2599, 'font-size': 72, textLength: 471, lengthAdjust: 'spacingAndGlyphs', class: 'tick' });
xTitle.textContent = 'Average strain';


const yTitle = make('text', { x: 0, y: 0, 'font-size': 72, textLength: 414, lengthAdjust: 'spacingAndGlyphs', transform: 'translate(201,2118) rotate(-90)', class: 'tick' });
yTitle.textContent = 'Stress [MPa]';


const expTimes = make('text', { x: 1512, y: 2636, 'font-size': 70, class: 'tick' });
expTimes.textContent = '×';
expTimes.style.fill = '#555';


const expBase = make('text', { x: 1558, y: 2609, 'font-size': 60, textLength: 62, lengthAdjust: 'spacingAndGlyphs', class: 'tick' });
expBase.textContent = '10';


const expPow = make('text', { x: 1622, y: 2578, 'font-size': 54, textLength: 58, lengthAdjust: 'spacingAndGlyphs', class: 'tick' });
expPow.textContent = '-4';



// legend
const legendBox = make('rect', { x: 1094, y: 1412, width: 586, height: 335, fill: '#fff', stroke: '#555', 'stroke-width': 3 });


const legendRowY = [1446, 1500.5, 1554, 1608, 1661, 1716];
const legendColors = [BLUE, BLUE, BLUE, RED, RED, RED];
const legendDash = ['', '30 30', '7 8.3', '', '30 30', '7 8.3'];
legendLabels.forEach((lab, i) => {
  const attrs = { x1: 1105, x2: 1228, y1: legendRowY[i], y2: legendRowY[i], stroke: legendColors[i], 'stroke-width': 7 };
  if (legendDash[i]) attrs['stroke-dasharray'] = legendDash[i];
  const ln = make('line', attrs);
  
  
  const tx = make('text', { x: 1241, y: legendRowY[i] + 15, 'font-size': 42, textLength: i < 3 ? 327 : 428, lengthAdjust: 'spacingAndGlyphs', class: 'tick' });
  tx.textContent = lab;
  
  
});
</script>
</body>
</html>
